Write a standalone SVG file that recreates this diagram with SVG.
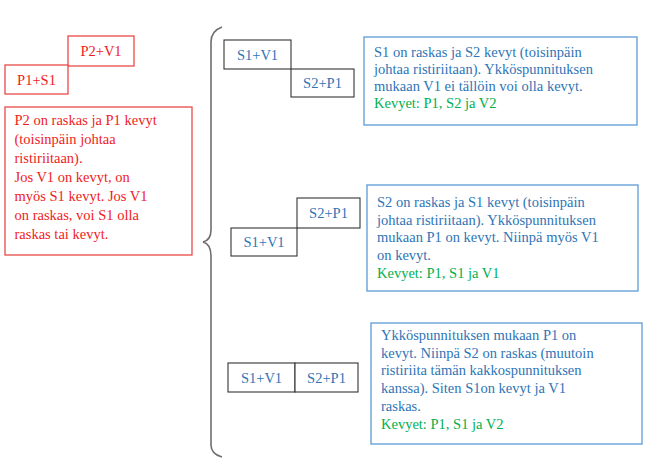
<svg xmlns="http://www.w3.org/2000/svg" width="650" height="469" viewBox="0 0 650 469">
<style>
text{font-family:"Liberation Serif","Times New Roman",serif;font-size:14.5px}
.red{fill:#f01c1c}
.blue{fill:#2e75b6}
.green{fill:#00b050}
.rbox{fill:#fff;stroke:#ea4a4a;stroke-width:1.3}
.bbox{fill:#fff;stroke:#5b9bd5;stroke-width:1.3}
.kbox{fill:#fff;stroke:#333;stroke-width:1.1}
.brace{fill:none;stroke:#6e6e6e;stroke-width:1.6}
</style>
<rect width="650" height="469" fill="#fff"/>
<g id="left">
  <g id="p2v1"><rect class="rbox" x="68" y="36" width="66" height="30"/><text class="red" x="101" y="56" text-anchor="middle">P2+V1</text></g>
  <g id="p1s1"><rect class="rbox" x="5" y="65" width="63" height="29"/><text class="red" x="36.5" y="84.5" text-anchor="middle">P1+S1</text></g>
  <g id="leftnote"><rect class="rbox" x="5" y="107" width="187" height="148"/>
    <text class="red" x="14.5"><tspan x="14.5" y="125">P2 on raskas ja P1 kevyt</tspan><tspan x="14.5" y="144">(toisinpäin johtaa</tspan><tspan x="14.5" y="163">ristiriitaan).</tspan><tspan x="14.5" y="182">Jos V1 on kevyt, on</tspan><tspan x="14.5" y="201">myös S1 kevyt. Jos V1</tspan><tspan x="14.5" y="220">on raskas, voi S1 olla</tspan><tspan x="14.5" y="239">raskas tai kevyt.</tspan></text>
  </g>
</g>
<g id="connectors">
  <path class="brace" d="M222,27 Q211,31 211,42 L211,230 Q211,240 203,242 Q211,244 211,256 L211,445 Q211,454 222,457"/>
</g>
<g id="case1">
  <g id="c1s1v1"><rect class="kbox" x="224" y="40" width="67" height="29"/><text class="blue" x="257.5" y="59.5" text-anchor="middle">S1+V1</text></g>
  <g id="c1s2p1"><rect class="kbox" x="291" y="69" width="63" height="28"/><text class="blue" x="322.5" y="88" text-anchor="middle">S2+P1</text></g>
  <g id="c1note"><rect class="bbox" x="364" y="37" width="273" height="88"/>
    <text class="blue"><tspan x="374" y="57">S1 on raskas ja S2 kevyt (toisinpäin</tspan><tspan x="374" y="74">johtaa ristiriitaan). Ykköspunnituksen</tspan><tspan x="374" y="91">mukaan V1 ei tällöin voi olla kevyt.</tspan></text>
    <text class="green" x="374" y="108">Kevyet: P1, S2 ja V2</text>
  </g>
</g>
<g id="case2">
  <g id="c2s2p1"><rect class="kbox" x="297" y="198" width="63" height="30"/><text class="blue" x="328.5" y="218" text-anchor="middle">S2+P1</text></g>
  <g id="c2s1v1"><rect class="kbox" x="231" y="228" width="66" height="28"/><text class="blue" x="264" y="247" text-anchor="middle">S1+V1</text></g>
  <g id="c2note"><rect class="bbox" x="367" y="185" width="271" height="106"/>
    <text class="blue"><tspan x="377" y="207">S2 on raskas ja S1 kevyt (toisinpäin</tspan><tspan x="377" y="225">johtaa ristiriitaan). Ykköspunnituksen</tspan><tspan x="377" y="242">mukaan P1 on kevyt. Niinpä myös V1</tspan><tspan x="377" y="260">on kevyt.</tspan></text>
    <text class="green" x="377" y="278">Kevyet: P1, S1 ja V1</text>
  </g>
</g>
<g id="case3">
  <g id="c3s1v1"><rect class="kbox" x="228" y="363" width="67" height="29"/><text class="blue" x="261.5" y="382.5" text-anchor="middle">S1+V1</text></g>
  <g id="c3s2p1"><rect class="kbox" x="295" y="363" width="63" height="29"/><text class="blue" x="326.5" y="382.5" text-anchor="middle">S2+P1</text></g>
  <g id="c3note"><rect class="bbox" x="371" y="323" width="271" height="121"/>
    <text class="blue"><tspan x="381" y="340">Ykköspunnituksen mukaan P1 on</tspan><tspan x="381" y="358">kevyt. Niinpä S2 on raskas (muutoin</tspan><tspan x="381" y="375">ristiriita tämän kakkospunnituksen</tspan><tspan x="381" y="393">kanssa). Siten S1on kevyt ja V1</tspan><tspan x="381" y="411">raskas.</tspan></text>
    <text class="green" x="381" y="429">Kevyet: P1, S1 ja V2</text>
  </g>
</g>
</svg>
